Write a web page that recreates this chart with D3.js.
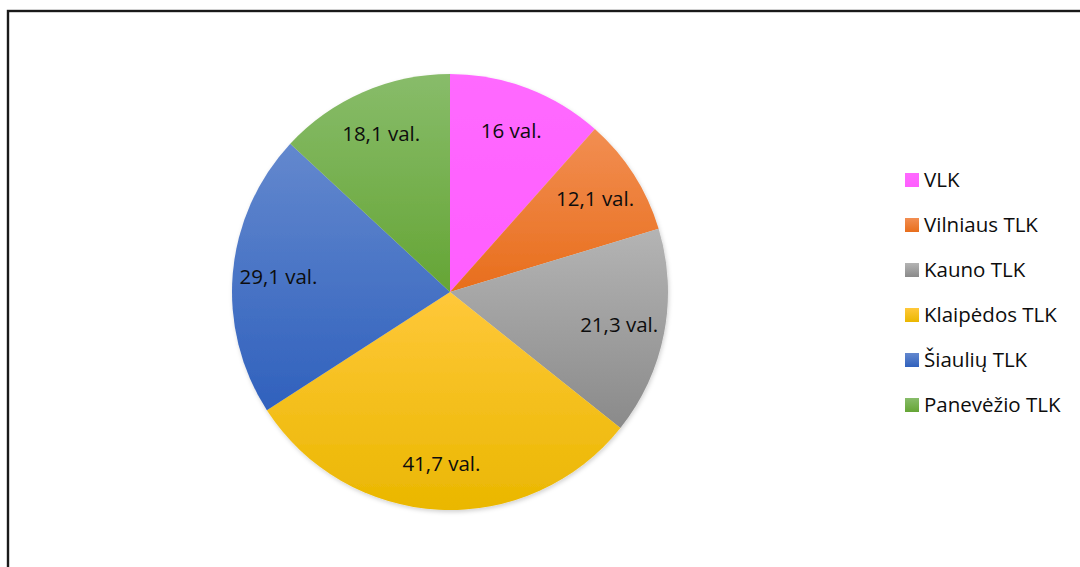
<!DOCTYPE html>
<html><head><meta charset="utf-8">
<script src="https://cdn.jsdelivr.net/npm/d3@7"></script>
<style>html,body{margin:0;padding:0;background:#fff;overflow:hidden}</style>
</head><body>
<script>
const categories = ["VLK","Vilniaus TLK","Kauno TLK","Klaipėdos TLK","Šiaulių TLK","Panevėžio TLK"];
const values = [16, 12.1, 21.3, 41.7, 29.1, 18.1];
const labels = ["16 val.","12,1 val.","21,3 val.","41,7 val.","29,1 val.","18,1 val."];
const colorsTop = ["#FF69FF","#F28E52","#B4B4B4","#FFC83A","#6388CE","#88BC6A"];
const colorsBottom = ["#FF5EFF","#E86E1C","#8A8A8A","#EAB700","#3061BD","#65A535"];

const W = 1080, H = 567;
const svg = d3.select("body").append("svg").attr("width", W).attr("height", H);
const defs = svg.append("defs");
categories.forEach((c,i)=>{
  const g = defs.append("linearGradient").attr("id","g"+i).attr("x1",0).attr("y1",0).attr("x2",0).attr("y2",1);
  g.append("stop").attr("offset","0%").attr("stop-color",colorsTop[i]);
  g.append("stop").attr("offset","100%").attr("stop-color",colorsBottom[i]);
});
const f = defs.append("filter").attr("id","sh").attr("x","-10%").attr("y","-10%").attr("width","120%").attr("height","120%");
f.append("feDropShadow").attr("dx",1).attr("dy",2).attr("stdDeviation",2).attr("flood-color","#000").attr("flood-opacity",0.18);

// frame
svg.append("rect").attr("x",8).attr("y",11).attr("width",W+20).attr("height",H+20)
  .attr("fill","none").attr("stroke","#1a1a1a").attr("stroke-width",2.4);

const cx = 450, cy = 292, R = 218;
const pie = d3.pie().sort(null).value(d=>d)(values);
const arc = d3.arc().innerRadius(0).outerRadius(R);
const labelArc = d3.arc().innerRadius(R*0.79).outerRadius(R*0.79);
const g = svg.append("g").attr("transform",`translate(${cx},${cy})`);
g.append("g").attr("filter","url(#sh)").selectAll("path").data(pie).join("path")
  .attr("d",arc).attr("fill",(d,i)=>`url(#g${i})`);
g.selectAll("text").data(pie).join("text")
  .attr("transform",d=>`translate(${labelArc.centroid(d)})`)
  .attr("text-anchor","middle").attr("dy","0.35em")
  .attr("font-family","'Open Sans', sans-serif").attr("font-size",20.5).attr("fill","#0d0d0d")
  .text((d,i)=>labels[i]);

// legend
const leg = svg.append("g").attr("transform","translate(905,180)");
const rows = leg.selectAll("g").data(categories).join("g").attr("transform",(d,i)=>`translate(0,${i*45})`);
rows.append("rect").attr("x",0).attr("y",-7).attr("width",14).attr("height",14).attr("fill",(d,i)=>`url(#g${i})`);
rows.append("text").attr("x",19).attr("dy","0.35em")
  .attr("font-family","'Open Sans', sans-serif").attr("font-size",20.5).attr("fill","#0d0d0d").text(d=>d);
</script>
</body></html>
